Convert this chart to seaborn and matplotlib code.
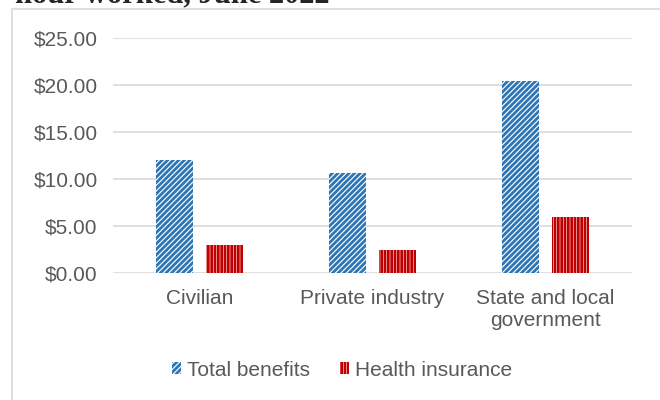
import matplotlib
matplotlib.use('Agg')
import matplotlib.pyplot as plt
import matplotlib.patches as mpatches
import seaborn as sns
import pandas as pd

# values (dollars per hour worked)
categories = ['Civilian', 'Private industry', 'State and local\ngovernment']
series = ['Total benefits', 'Health insurance']
total_benefits = [11.95, 10.60, 20.40]
health_insurance = [2.95, 2.45, 5.97]
yticks = [0, 5, 10, 15, 20, 25]

blue = '#2E75B6'
red = '#C00000'
grey_text = '#595959'
grey_line = '#D9D9D9'

df = pd.DataFrame({
    'category': categories * 2,
    'series': [series[0]] * 3 + [series[1]] * 3,
    'value': total_benefits + health_insurance,
})

sns.set_style('white')
plt.rcParams['font.family'] = ['Liberation Sans', 'DejaVu Sans']
plt.rcParams['hatch.linewidth'] = 2.0

fig = plt.figure(figsize=(6.6, 4.0), dpi=100)
ax = fig.add_axes([113 / 660, 1 - 272.7 / 400, (632 - 113) / 660, (272.7 - 37.7) / 400])

sns.barplot(data=df, x='category', y='value', hue='series', order=categories,
            hue_order=series, palette=['white', 'white'], width=0.57, gap=0.25,
            linewidth=0, legend=False, ax=ax)

# pattern fills like the original
for cont, col, hatch in zip(ax.containers, [blue, red], ['//////', '|||||']):
    for bar in cont:
        bar.set_hatch(hatch)
        bar.set_edgecolor(col)
        bar.set_linewidth(0)
        bar.set_facecolor('white')

ax.set_ylim(0, 25)
ax.set_yticks(yticks)
ax.set_yticklabels(['$%.2f' % v for v in yticks])
ax.yaxis.grid(True, color=grey_line, linewidth=1.2)
ax.set_axisbelow(True)
for s in ax.spines.values():
    s.set_visible(False)
ax.tick_params(axis='y', length=0, pad=11, labelsize=15, labelcolor=grey_text)
ax.tick_params(axis='x', length=0, pad=12, labelsize=15, labelcolor=grey_text)
ax.set_xlabel('')
ax.set_ylabel('')

handles = [ax.containers[0][0], ax.containers[1][0]]
leg = fig.legend(handles, series, loc='center', bbox_to_anchor=(342 / 660, 1 - 370 / 400),
                 ncol=2, frameon=False, fontsize=15, handlelength=0.45, handleheight=0.45,
                 handletextpad=0.3, columnspacing=1.4)
for t in leg.get_texts():
    t.set_color(grey_text)

# chart frame, partly off the picture
fig.patches.append(mpatches.Rectangle((12 / 660, -0.05), 1.0, 1 - 9 / 400 + 0.05,
                                      transform=fig.transFigure, fill=False,
                                      edgecolor=grey_line, linewidth=1.2))

# title cut off by the top edge
fig.text(15 / 660, 1 - 2 / 400, 'hour worked, June 2022', ha='left', va='baseline',
         fontsize=22, fontweight='bold', family=['Liberation Serif', 'DejaVu Serif'])

fig.savefig('out.png', dpi=100)
